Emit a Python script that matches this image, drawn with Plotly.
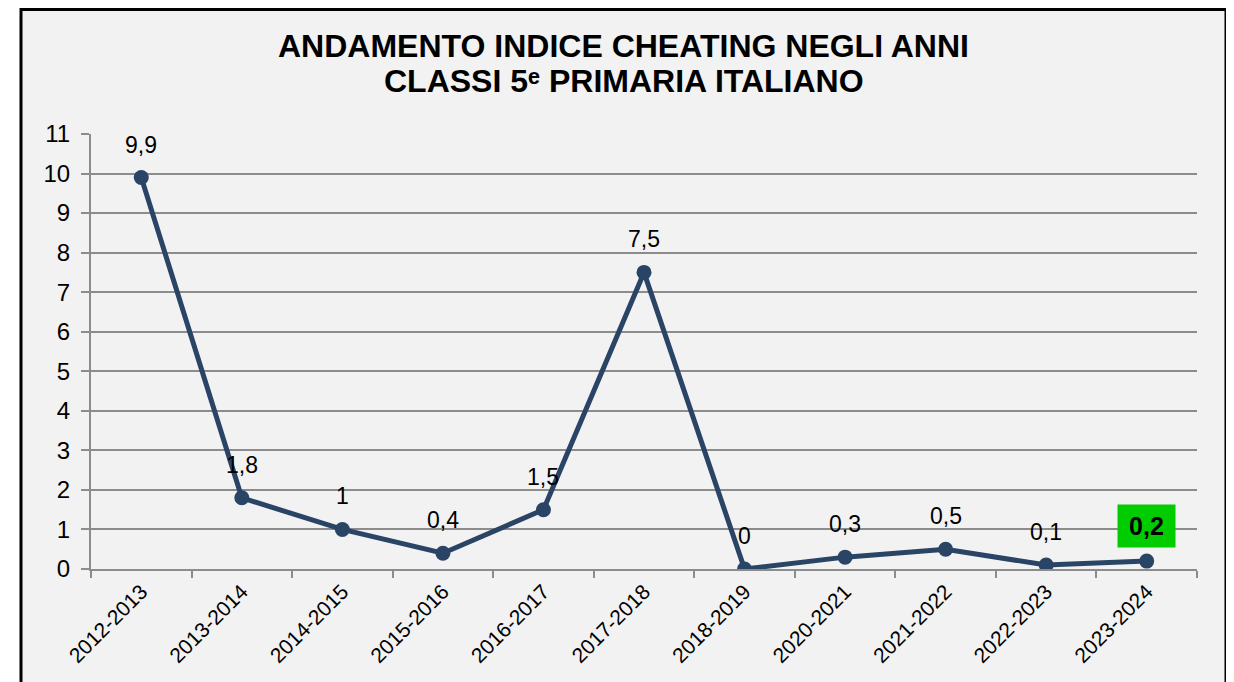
import plotly.graph_objects as go

years = ["2012-2013", "2013-2014", "2014-2015", "2015-2016", "2016-2017", "2017-2018",
         "2018-2019", "2020-2021", "2021-2022", "2022-2023", "2023-2024"]
values = [9.9, 1.8, 1.0, 0.4, 1.5, 7.5, 0.0, 0.3, 0.5, 0.1, 0.2]
labels = ["9,9", "1,8", "1", "0,4", "1,5", "7,5", "0", "0,3", "0,5", "0,1", "0,2"]
title_lines = ["ANDAMENTO INDICE CHEATING NEGLI ANNI", "CLASSI 5\u1d49 PRIMARIA ITALIANO"]

OFF = 8  # page body margin
W, H = 1234 - OFF, 682 - OFF
# plot area in page pixels
L, R, T, B = 91, 1197, 134, 569

def px(x):
    return (x - L) / (R - L)

def py(y):
    return (B - y) / (B - T)

FONT = "Liberation Sans, Arial, sans-serif"
LINE = "#2a4466"
GRID = "#8c8c8c"

fig = go.Figure()
fig.add_trace(go.Scatter(
    x=years, y=values, mode="lines+markers",
    line=dict(color=LINE, width=5),
    marker=dict(color=LINE, size=15),
    hoverinfo="skip", showlegend=False,
))

annotations = []
for i, (yr, v, lab) in enumerate(zip(years, values, labels)):
    last = i == len(years) - 1
    a = dict(
        x=yr, y=v, xref="x", yref="y", text=("<b>%s</b>" % lab) if last else lab,
        showarrow=False, yshift=35 if last else 33,
        font=dict(family=FONT, size=25 if last else 23, color="#000"),
    )
    if last:
        a.update(bgcolor="#00cc00", borderpad=6, width=45, height=30)
    annotations.append(a)

for line, yc in zip(title_lines, [46, 81]):
    annotations.append(dict(
        x=px(623.5), y=py(yc), xref="paper", yref="paper",
        text="<b>%s</b>" % line, showarrow=False, xanchor="center", yanchor="middle",
        font=dict(family=FONT, size=32, color="#000"),
    ))

fig.update_layout(
    width=W, height=H,
    margin=dict(l=L - OFF, r=W - (R - OFF), t=T - OFF, b=H - (B - OFF), pad=0),
    paper_bgcolor="white", plot_bgcolor="rgba(0,0,0,0)",
    annotations=annotations,
    shapes=[dict(type="rect", xref="paper", yref="paper",
                 x0=px(21), x1=px(1226), y0=py(720), y1=py(9.5),
                 line=dict(color="black", width=3), fillcolor="#f2f2f2", layer="below")],
    xaxis=dict(
        type="category", range=[-0.5, len(years) - 0.5],
        showgrid=False, showline=True, linecolor=GRID, linewidth=2,
        ticks="outside", tickson="boundaries", ticklen=7, tickcolor=GRID, tickwidth=2,
        tickangle=-45, tickfont=dict(family=FONT, size=21, color="#000"),
        zeroline=False, fixedrange=True,
    ),
    yaxis=dict(
        range=[0, 11], dtick=1, tick0=0,
        showgrid=True, gridcolor=GRID, gridwidth=2,
        showline=True, linecolor=GRID, linewidth=2,
        ticks="outside", ticklen=8, tickcolor=GRID, tickwidth=2,
        ticklabelstandoff=6,
        tickfont=dict(family=FONT, size=24, color="#000"),
        zeroline=False, fixedrange=True,
    ),
)

fig.write_html("out.html", config={"displayModeBar": False})
